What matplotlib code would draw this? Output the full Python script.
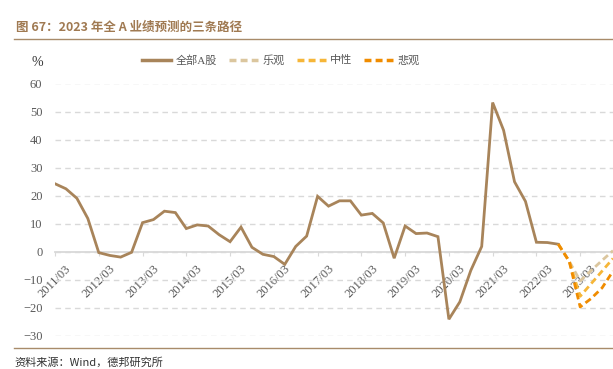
import matplotlib.pyplot as plt
import matplotlib.transforms as mtransforms
from matplotlib.lines import Line2D

# quarterly growth of all-A earnings, 2011/03 .. 2022/09
actual = [24.2, 22.4, 19.0, 11.8,
          -0.4, -1.4, -2.0, -0.3,
          10.3, 11.4, 14.4, 13.9,
          8.2, 9.5, 9.1, 6.0,
          3.5, 8.7, 1.5, -1.0,
          -1.8, -4.6, 1.8, 5.5,
          19.7, 16.2, 18.1, 18.1,
          13.0, 13.6, 10.2, -2.4,
          9.1, 6.4, 6.6, 5.3,
          -24.2, -18.0, -6.8, 1.8,
          53.2, 43.3, 24.9, 17.9,
          3.3, 3.2, 2.6]

# three paths, 2022/09 .. 2023/12
optimistic = [2.6, -3.5, -10.5, -6.8, -3.2, 0.3]
neutral = [2.6, -3.5, -16.0, -11.5, -7.0, -2.5]
pessimistic = [2.6, -3.5, -19.8, -16.8, -13.0, -7.0]

year_labels = ['%d/03' % y for y in range(2011, 2024)]
legend_labels = ['全部A股', '乐观', '中性', '悲观']

c_main = '#A8845A'
c_opt = '#DBC69E'
c_neu = '#F6B638'
c_pes = '#F08C00'
c_title = '#A07A52'
c_text = '#595959'
c_grid = '#D9D9D9'

plt.rcParams['font.family'] = ['Liberation Serif', 'Noto Sans CJK SC']

fig = plt.figure(figsize=(6.13, 3.69), dpi=100)
ax = fig.add_axes([55 / 613, 33.5 / 369, 1 - 55 / 613, 252 / 369])

x_act = list(range(len(actual)))
start = len(actual) - 1
x_fc = list(range(start, start + len(optimistic)))

dash = (0, (2.4, 1.4))
ax.plot(x_act, actual, color=c_main, lw=2.0, solid_joinstyle='miter', zorder=3)
ax.plot(x_fc, optimistic, color=c_opt, lw=2.0, linestyle=dash, zorder=3)
ax.plot(x_fc, neutral, color=c_neu, lw=2.0, linestyle=dash, zorder=4)
ax.plot(x_fc, pessimistic, color=c_pes, lw=2.0, linestyle=dash, zorder=5)

ax.set_xlim(0, x_fc[-1])
ax.set_ylim(-30, 60)
ax.set_yticks(range(-30, 61, 10))
ax.yaxis.grid(True, linestyle=(0, (4, 3)), color=c_grid, lw=1)
ax.set_axisbelow(True)

for s in ['top', 'right', 'left']:
    ax.spines[s].set_visible(False)
ax.spines['bottom'].set_position(('data', 0))
ax.spines['bottom'].set_color(c_grid)
ax.spines['bottom'].set_linewidth(1.3)

ax.set_xticks(range(0, len(year_labels) * 4, 4))
ax.set_xticklabels(year_labels, rotation=45, ha='center', fontsize=9, color=c_text)
shift = mtransforms.ScaledTranslation(-5 / 100, 0, fig.dpi_scale_trans)
for lab in ax.get_xticklabels():
    lab.set_transform(lab.get_transform() + shift)
ax.tick_params(axis='x', length=3, color=c_grid, pad=5)
ax.tick_params(axis='y', length=0, pad=9, labelsize=9, labelcolor=c_text)

# header and footer
fig.text(16 / 613, 1 - 27 / 369, '图 67：2023 年全 A 业绩预测的三条路径',
         family=['Noto Sans CJK SC', 'DejaVu Sans'], fontweight='bold',
         fontsize=9, color=c_title, va='center', ha='left')
fig.add_artist(Line2D([14 / 613, 1], [1 - 39 / 369] * 2, color='#A88B6A', lw=1))
fig.add_artist(Line2D([14 / 613, 1], [1 - 348 / 369] * 2, color='#A88B6A', lw=1))
fig.text(14 / 613, 1 - 362 / 369, '资料来源：Wind，德邦研究所',
         family=['Noto Sans CJK SC', 'DejaVu Sans'], fontsize=8, color='#333333',
         va='center', ha='left')
fig.text(32 / 613, 1 - 62 / 369, '%', fontsize=10, color='#333333', va='center')

handles = [Line2D([], [], color=c_main, lw=2.5),
           Line2D([], [], color=c_opt, lw=2.5, linestyle=(0, (2, 1.2))),
           Line2D([], [], color=c_neu, lw=2.5, linestyle=(0, (2, 1.2))),
           Line2D([], [], color=c_pes, lw=2.5, linestyle=(0, (2, 1.2)))]
leg = fig.legend(handles, legend_labels, loc='center', bbox_to_anchor=(281 / 613, 1 - 60 / 369),
                 ncol=4, frameon=False, fontsize=8, handlelength=2.6, handletextpad=0.4,
                 columnspacing=1.1)
for t in leg.get_texts():
    t.set_color(c_text)

fig.savefig('out.png', dpi=100)
